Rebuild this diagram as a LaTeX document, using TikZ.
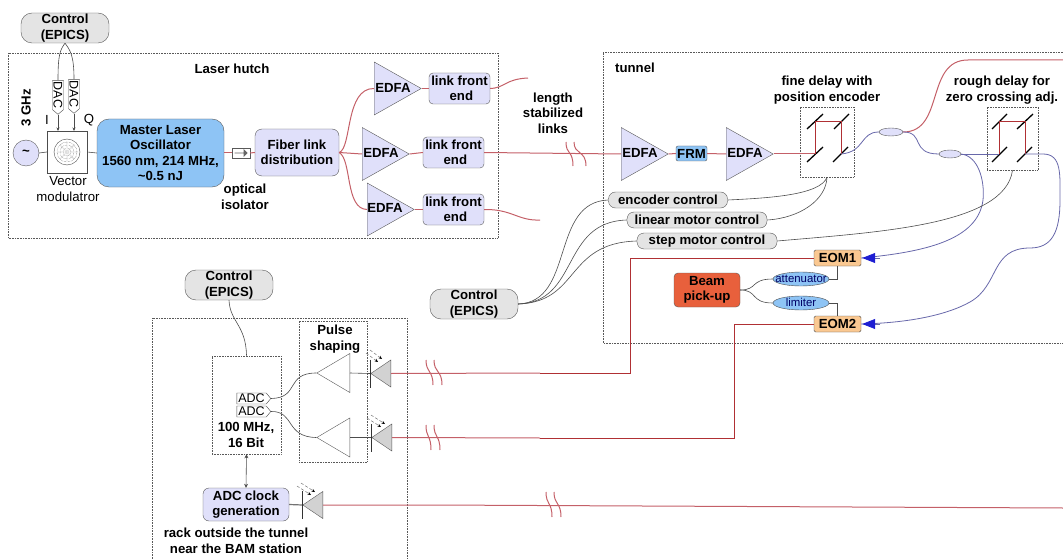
\documentclass[tikz,border=0pt]{standalone}
\usepackage{fontspec}
\setmainfont{Liberation Sans}
\usetikzlibrary{shapes.geometric,shapes.symbols,shapes.arrows,arrows.meta}
\newcommand{\flatlabel}[1]{\smash{\raisebox{-.35em}{#1}}}
\tikzset{
  ctrlbox/.style={draw=black!65,fill=ctrlgray,rounded corners=11,minimum width=88,minimum height=30,inner sep=0,align=center},
  ctrlpill/.style={draw=black!65,fill=ctrlgray,rounded corners=7,minimum height=16,inner sep=0},
  linkbox/.style={draw=black!65,fill=boxlav,rounded corners=4,inner sep=0,align=center},
  areabox/.style={draw=black!65,densely dotted,line width=.6pt},
  delaybox/.style={draw=black!65,densely dotted,line width=.6pt,inner sep=0},
  edfatri/.style={draw=black!65,fill=boxlav,isosceles triangle,isosceles triangle stretches,inner sep=0,minimum height=47,minimum width=53,shape border rotate=0,anchor=lower side},
  shapertri/.style={draw=black!65,fill=white,isosceles triangle,isosceles triangle stretches,inner sep=0,minimum height=33,minimum width=39,shape border rotate=180,anchor=lower side},
  diodetri/.style={draw=black!65,fill=diodegray,isosceles triangle,isosceles triangle stretches,inner sep=0,minimum height=20,minimum width=27,shape border rotate=180,anchor=lower side},
  dacsig/.style={draw=black!70,fill=white,shape=signal,signal to=east,signal pointer angle=100,inner sep=0,minimum width=34,minimum height=11,rotate=-90,font=\fontsize{12.5}{14}\selectfont},
  adcsig/.style={draw=black!70,fill=white,shape=signal,signal to=east,signal pointer angle=100,inner sep=0,minimum width=34,minimum height=11,font=\fontsize{12.5}{14}\selectfont},
  fiber/.style={draw=fiberred,line width=1pt},
  rfline/.style={draw=rfred,line width=.9pt},
  optline/.style={draw=optblue,line width=.8pt},
  wire/.style={draw=black!70,line width=.6pt},
  mirror/.style={draw=black,line width=1.3pt},
  lightray/.style={draw=black!55,densely dashed,line width=.5pt,-{Stealth[black,length=3.5pt,width=3pt]}},
  bluehead/.style={draw=optblue,line width=.8pt,-{Triangle[color=headblue,length=13pt,width=10pt]}}
}
\begin{document}
\begin{tikzpicture}[x=1pt,y=-1pt,font=\fontsize{13.2}{15.5}\selectfont\bfseries]
\definecolor{ctrlgray}{RGB}{228,228,228}
\definecolor{boxlav}{RGB}{224,224,250}
\definecolor{masterblue}{RGB}{142,196,245}
\definecolor{eomorange}{RGB}{250,200,145}
\definecolor{beamred}{RGB}{232,96,60}
\definecolor{diodegray}{RGB}{210,210,210}
\definecolor{fiberred}{RGB}{196,96,104}
\definecolor{rfred}{RGB}{176,48,52}
\definecolor{optblue}{RGB}{104,104,170}
\definecolor{headblue}{RGB}{30,30,210}
\useasboundingbox (0,0) rectangle (1063,559);
\draw[areabox] (8,53) rectangle (498,238);
\draw[areabox] (1063,52)--(603,52)--(603,343)--(1063,343);
\draw[areabox] (152,559)--(152,318)--(407,318)--(407,559);
\node (hutchlabel) at (232,69) {Laser hutch};
\node (tunnellabel) at (635,68) {tunnel};
\node[ctrlbox] (ctrltop) at (65,28) {Control\\(EPICS)};
\node[dacsig] (dacI) at (58,95) {\flatlabel{DAC}};
\node[dacsig] (dacQ) at (74,94) {\flatlabel{DAC}};
\node[draw=black!65,fill=boxlav,circle,minimum size=26,inner sep=0] (source) at (26,153) {\textasciitilde};
\node[rotate=90] (ghzlabel) at (26,108) {3 GHz};
\node[draw=black!70,fill=white,minimum width=40,minimum height=42,inner sep=0] (vecmod) at (67,152) {};
\draw[black!70] (vecmod.center) circle[radius=13];
\draw[black!70,densely dotted] (vecmod.center) circle[radius=10];
\draw[black!70,densely dotted] (vecmod.center) circle[radius=7];
\draw[black!70,densely dotted] (vecmod.center) circle[radius=4];
\draw[black!70,densely dotted] (57,152)--(77,152) (67,142)--(67,162) (60,145)--(74,159) (60,159)--(74,145);
\node[font=\fontsize{13.2}{15.5}\selectfont] (ilabel) at (47,120) {I};
\node[font=\fontsize{13.2}{15.5}\selectfont] (qlabel) at (89,120) {Q};
\node[align=center,font=\fontsize{13.2}{15.5}\selectfont] (vecmodlabel) at (68,189) {Vector\\modulatror};
\node[draw=black!65,fill=masterblue,rounded corners=12,minimum width=127,minimum height=68,inner sep=0,align=center] (master) at (160.5,153) {Master Laser\\Oscillator\\1560 nm, 214 MHz,\\\textasciitilde 0.5 nJ};
\node[draw=black!65,fill=white,minimum width=18,minimum height=10,inner sep=0] (isolator) at (241,153) {};
\node[single arrow,draw=none,fill=black!60,minimum width=8,minimum height=13,inner sep=0,single arrow head extend=1.5pt] (isoarrow) at (241,153) {};
\node[align=center] (isolabel) at (245,197) {optical\\isolator};
\node[linkbox,minimum width=84,minimum height=47,rounded corners=7] (fiberdist) at (297,152.5) {Fiber link\\distribution};
\node[edfatri] (edfaA) at (374,88.5) {};
\node (edfaAtext) at (393,88) {EDFA};
\node[edfatri] (edfaB) at (362,154) {};
\node (edfaBtext) at (381,153) {EDFA};
\node[edfatri] (edfaC) at (367,209.5) {};
\node (edfaCtext) at (385,208) {EDFA};
\node[linkbox,minimum width=61,minimum height=31] (frontA) at (459.5,88.5) {link front\\\ end};
\node[linkbox,minimum width=61,minimum height=31] (frontB) at (453.5,152.5) {link front\\\ end};
\node[linkbox,minimum width=61,minimum height=31] (frontC) at (453.5,209.5) {link front\\\ end};
\coordinate (frontAend) at (528,78);
\coordinate (frontCend) at (540,220);
\node[align=center] (linkslabel) at (553,113) {length\\stabilized\\links};
\node[edfatri] (edfaD) at (621,154) {};
\node (edfaDtext) at (640,153) {EDFA};
\node[draw=black!65,fill=masterblue,rounded corners=2,minimum width=31,minimum height=15,inner sep=0] (frm) at (691.5,153.5) {FRM};
\node[edfatri] (edfaE) at (726,154) {};
\node (edfaEtext) at (745,153) {EDFA};
\node[delaybox,minimum width=54,minimum height=70] (finedelay) at (827,142) {};
\node[delaybox,minimum width=51,minimum height=63] (roughdelay) at (1012.5,138.5) {};
\node[align=center] (finelabel) at (827,90) {fine delay with\\position encoder};
\node[align=center] (roughlabel) at (1002,90) {rough delay for\\zero crossing adj.};
\draw[mirror] (807,129)--(823,114) (834,129)--(849,114) (807,162)--(823,147) (833,162)--(848,147);
\draw[mirror] (992,129)--(1007,114) (1017,129)--(1033,114) (992,162)--(1007,147) (1017,162)--(1032,147);
\node[draw=black!65,fill=boxlav,ellipse,minimum width=24,minimum height=8,inner sep=0] (couplerA) at (891,132) {};
\node[draw=black!65,fill=boxlav,ellipse,minimum width=22,minimum height=8,inner sep=0] (couplerB) at (950,154) {};
\coordinate (finein) at (815,154);
\coordinate (fineout) at (841,154);
\coordinate (roughin) at (999,154);
\coordinate (roughout) at (1025,154);
\coordinate (linkend) at (1063,60);
\node[ctrlpill,minimum width=119] (encoder) at (668,200) {encoder control};
\node[ctrlpill,minimum width=140] (linmotor) at (697,220) {linear motor control};
\node[ctrlpill,minimum width=140] (stepmotor) at (707,241) {step motor control};
\node[ctrlbox] (ctrlmid) at (474,304) {Control\\(EPICS)};
\node[ctrlbox] (ctrlrack) at (229,285) {Control\\(EPICS)};
\node[draw=black!70,fill=eomorange,rounded corners=1.5,minimum width=47,minimum height=16,inner sep=0] (eomA) at (837.5,258) {EOM1};
\node[draw=black!70,fill=eomorange,rounded corners=1.5,minimum width=47,minimum height=16,inner sep=0] (eomB) at (837.5,324) {EOM2};
\node[draw=black!65,fill=beamred,rounded corners=4,minimum width=66,minimum height=34,inner sep=0,align=center] (beam) at (707,290) {Beam\\pick-up};
\node[draw=black!70,fill=masterblue,ellipse,minimum width=56,minimum height=14,inner sep=0,text=black!60!blue,font=\fontsize{11.4}{13}\selectfont] (atten) at (801,279) {\makebox[0pt]{\flatlabel{attenuator}}};
\node[draw=black!70,fill=masterblue,ellipse,minimum width=56,minimum height=14,inner sep=0,text=black!60!blue,font=\fontsize{11.4}{13}\selectfont] (limiter) at (801,303) {\makebox[0pt]{\flatlabel{limiter}}};
\node[delaybox,minimum width=69,minimum height=98] (adcbox) at (246.5,405) {};
\node[delaybox,minimum width=68,minimum height=141] (shapebox) at (333,391.5) {};
\node[align=center] (shapelabel) at (335,339) {Pulse\\shaping};
\node[adcsig] (adcA) at (251.5,398.5) {\flatlabel{ADC}};
\node[adcsig] (adcB) at (251.5,411.5) {\flatlabel{ADC}};
\node[align=center] (adclabel) at (246,435) {100 MHz,\\16 Bit};
\node[shapertri] (shaperA) at (350,373) {};
\node[shapertri] (shaperB) at (350,437.5) {};
\node[diodetri] (diodeA) at (391,373.5) {};
\node[diodetri] (diodeB) at (392,437.5) {};
\node[diodetri] (diodeC) at (323,505) {};
\node[linkbox,minimum width=86,minimum height=33,rounded corners=6] (adcclock) at (246,504.5) {ADC clock\\generation};
\node[align=center] (racklabel) at (236,541) {rack outside the tunnel\\near the BAM station};
\coordinate (clockend) at (1063,508);
\draw[wire] (ctrltop.south) .. controls (60,50) and (58,55) .. (dacI.west);
\draw[wire] (ctrltop.south) .. controls (70,50) and (74,55) .. (dacQ.west);
\draw[wire,-{Stealth[length=3.5pt,width=3pt]}] (dacI.east)--(58,131);
\draw[wire,-{Stealth[length=3.5pt,width=3pt]}] (dacQ.east)--(74,131);
\draw[wire] (source.east)--(vecmod.west);
\draw[wire] (vecmod.east)--(master.west);
\draw[fiber] (master.east)--(isolator.west);
\draw[fiber] (isolator.east)--(fiberdist.west);
\draw[fiber] (fiberdist.east) .. controls (352,148) and (345,88) .. (edfaA.lower side);
\draw[fiber] (fiberdist.east)--(edfaB.lower side);
\draw[fiber] (fiberdist.east) .. controls (352,160) and (345,209) .. (edfaC.lower side);
\draw[fiber] (edfaA.apex)--(frontA.west);
\draw[fiber] (edfaB.apex)--(frontB.west);
\draw[fiber] (edfaC.apex)--(frontC.west);
\draw[fiber] (frontA.east) .. controls (505,88) and (505,79) .. (frontAend);
\draw[fiber] (frontC.east) .. controls (512,209) and (518,221) .. (frontCend);
\draw[fiber] (frontB.east)--(edfaD.lower side);
\draw[fiber] (566,142) .. controls (566,155) and (573,150) .. (573,166);
\draw[fiber] (574,142) .. controls (574,155) and (586,150) .. (586,166);
\draw[fiber] (edfaD.apex)--(frm.west);
\draw[fiber] (frm.east)--(edfaE.lower side);
\draw[fiber] (edfaE.apex)--(finein);
\draw[rfline] (finein)--(815,121)--(841,121)--(fineout);
\draw[optline] (fineout) .. controls (865,152) and (860,132) .. (couplerA.west);
\draw[fiber] (couplerA.east) .. controls (945,132) and (925,60) .. (968,60)--(linkend);
\draw[optline] (couplerA.east) .. controls (925,132) and (910,154) .. (couplerB.west);
\draw[optline] (couplerB.east)--(roughin);
\draw[rfline] (roughin)--(999,121)--(1025,121)--(roughout);
\draw[optline] (roughout)--(1043,154) .. controls (1062,154) and (1060,175) .. (1060,200) .. controls (1060,232) and (1052,248) .. (1030,248) .. controls (990,248) and (1000,285) .. (970,302) .. controls (945,316) and (905,323) .. (eomB.east);
\draw[bluehead,shorten >=1pt] (880,324)--(eomB.east);
\draw[optline] (couplerB.east) .. controls (978,156) and (985,180) .. (983,200) .. controls (978,240) and (925,252) .. (eomA.east);
\draw[bluehead,shorten >=1pt] (880,258)--(eomA.east);
\draw[wire] (encoder.east) .. controls (770,198) and (820,195) .. (finedelay.south);
\draw[wire] (linmotor.east) .. controls (800,218) and (826,200) .. (finedelay.south);
\draw[wire] (stepmotor.east) .. controls (880,232) and (1005,225) .. (roughdelay.south);
\draw[wire] (ctrlmid.east) .. controls (575,302) and (550,202) .. (encoder.west);
\draw[wire] (ctrlmid.east) .. controls (580,302) and (560,222) .. (linmotor.west);
\draw[wire] (ctrlmid.east) .. controls (580,302) and (565,243) .. (stepmotor.west);
\draw[wire] (beam.east) .. controls (758,290) and (750,279) .. (atten.west);
\draw[wire] (beam.east) .. controls (758,290) and (750,303) .. (limiter.west);
\draw[wire] (atten.east) -| (eomA.south);
\draw[wire] (limiter.east) -| (eomB.north);
\draw[wire] (ctrlrack.south) .. controls (230,322) and (246,325) .. (adcbox.north);
\draw[wire] (adcA.east) .. controls (300,398) and (285,373) .. (shaperA.apex);
\draw[wire] (adcB.east) .. controls (295,411) and (285,437) .. (shaperB.apex);
\draw[wire] (shaperA.lower side)--(diodeA.apex);
\draw[wire] (shaperB.lower side)--(diodeB.apex);
\draw[wire,{Stealth[length=4pt,width=4pt]}-{Stealth[length=4pt,width=4pt]}] (adcbox.south)--(adcclock.north);
\draw[wire,draw=black!55,line width=1.2pt] (adcclock.east)--(diodeC.apex);
\draw[black!80,line width=.7pt] (diodeA.apex)+(0,-14)--+(0,14);
\draw[black!80,line width=.7pt] (diodeB.apex)+(0,-14)--+(0,14);
\draw[black!80,line width=.7pt] (diodeC.apex)+(0,-14)--+(0,14);
\draw[lightray] (370,350)--(382,359);
\draw[lightray] (366,353)--(378,362);
\draw[lightray] (371,415)--(385,424);
\draw[lightray] (367,418)--(381,427);
\draw[lightray] (301,483)--(315,492);
\draw[lightray] (297,486)--(311,495);
\draw[fiber] (diodeA.lower side)--(540,373);
\draw[rfline] (540,373)--(630,373)--(630,258)--(eomA.west);
\draw[fiber] (diodeB.lower side)--(540,438);
\draw[rfline] (540,438)--(734,438)--(734,324)--(eomB.west);
\draw[fiber] (diodeC.lower side)--(433,505)--(clockend);
\draw[fiber] (426,360) .. controls (426,373) and (433,370) .. (433,385);
\draw[fiber] (434,360) .. controls (434,373) and (442,370) .. (442,385);
\draw[fiber] (426,425) .. controls (426,438) and (431,435) .. (431,450);
\draw[fiber] (434,425) .. controls (434,438) and (440,435) .. (440,450);
\draw[fiber] (546,492) .. controls (546,505) and (552,502) .. (552,517);
\draw[fiber] (554,492) .. controls (554,505) and (561,502) .. (561,517);
\end{tikzpicture}
\end{document}
